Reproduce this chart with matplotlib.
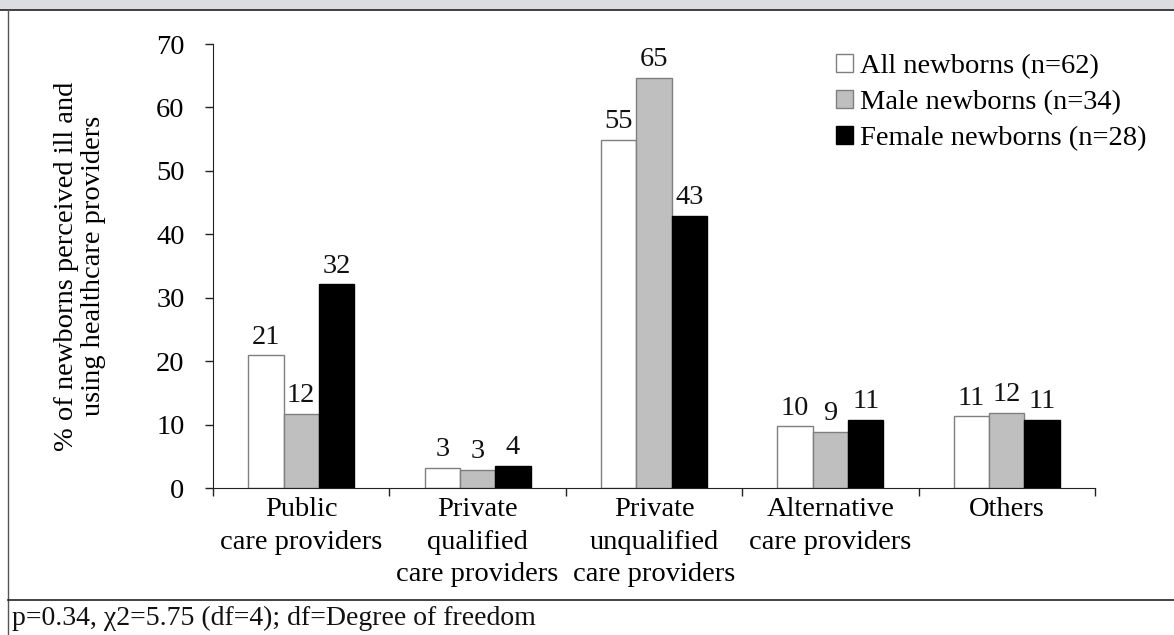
import matplotlib.pyplot as plt
import numpy as np
from matplotlib.lines import Line2D
from matplotlib.patches import Rectangle

plt.rcParams["font.family"] = ["Liberation Serif", "DejaVu Serif"]

CATEGORIES = [
    "Public\ncare providers",
    "Private\nqualified\ncare providers",
    "Private\nunqualified\ncare providers",
    "Alternative\ncare providers",
    "Others",
]
SERIES_NAMES = ["All newborns (n=62)", "Male newborns (n=34)", "Female newborns (n=28)"]
ALL_VALUES = [20.9, 3.2, 54.9, 9.7, 11.3]
MALE_VALUES = [11.7, 2.9, 64.7, 8.8, 11.8]
FEMALE_VALUES = [32.1, 3.5, 42.9, 10.7, 10.7]
Y_TICKS = [0, 10, 20, 30, 40, 50, 60, 70]
YLABEL = "% of newborns perceived ill and\nusing healthcare providers"
FOOTNOTE = "p=0.34, \u03c72=5.75 (df=4); df=Degree of freedom"

FILLS = ["#ffffff", "#bfbfbf", "#000000"]
EDGES = ["#7f7f7f", "#7f7f7f", "#000000"]
FS = 20.5
W, H = 1174, 635

fig = plt.figure(figsize=(W / 100, H / 100), dpi=100)
ax = fig.add_axes([213 / W, 1 - 488 / H, (1095 - 213) / W, (488 - 44) / H])

x = np.arange(len(CATEGORIES))
width = 0.2
for i, (vals, name) in enumerate(zip([ALL_VALUES, MALE_VALUES, FEMALE_VALUES], SERIES_NAMES)):
    bars = ax.bar(x + (i - 1) * width, vals, width, color=FILLS[i], edgecolor=EDGES[i],
                  linewidth=1, label=name)
    for b, v in zip(bars, vals):
        ax.annotate(f"{v:.0f}", (b.get_x() + b.get_width() / 2, b.get_height()),
                    xytext=(0, 8.5), textcoords="offset points", ha="center",
                    va="baseline", fontsize=FS, color="#111111")

ax.set_xlim(-0.5, 4.5)
ax.set_ylim(0, 70)
ax.set_yticks(Y_TICKS)
ax.set_xticks(x)
ax.set_xticklabels(CATEGORIES, fontsize=FS, linespacing=1.4)
ax.set_xticks(np.arange(-0.5, 5, 1), minor=True)
ax.tick_params(axis="x", which="major", length=0, pad=6.5)
ax.tick_params(axis="x", which="minor", length=5.5, width=1, color="#222222")
ax.tick_params(axis="y", length=5.5, width=1, color="#222222", labelsize=FS, pad=15)
for side in ["top", "right"]:
    ax.spines[side].set_visible(False)
for side in ["left", "bottom"]:
    ax.spines[side].set_color("#222222")

fig.text(80 / W, 1 - 266 / H, YLABEL, rotation=90, ha="center", va="center",
         fontsize=FS, linespacing=1.15, multialignment="center")

handles, labels = ax.get_legend_handles_labels()
fig.legend(handles, labels, loc="upper left", bbox_to_anchor=(836 / W, 1 - 54 / H),
           frameon=False, fontsize=FS, borderpad=0, borderaxespad=0,
           handlelength=0.6, handleheight=0.6, handletextpad=0.25, labelspacing=0.38)

# frame around the figure panel
fig.patches.append(Rectangle((0, 1 - 10 / H), 1, 10 / H, transform=fig.transFigure,
                             facecolor="#dcdde0", edgecolor="none", zorder=0))
fig.lines.append(Line2D([0, 1], [1 - 10 / H] * 2, transform=fig.transFigure,
                        color="#222222", linewidth=1.2))
fig.lines.append(Line2D([8 / W] * 2, [0, 1 - 10 / H], transform=fig.transFigure,
                        color="#555555", linewidth=1))
fig.lines.append(Line2D([8 / W, 1], [1 - 600 / H] * 2, transform=fig.transFigure,
                        color="#222222", linewidth=1.2))
fig.text(12 / W, 1 - 618 / H, FOOTNOTE, ha="left", va="center", fontsize=FS - 0.5,
         color="#111111")

fig.savefig("out.png", dpi=100)
